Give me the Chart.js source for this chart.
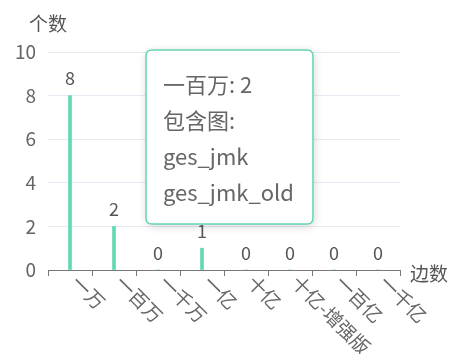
<!DOCTYPE html>
<html>
<head>
<meta charset="utf-8">
<script src="https://cdn.jsdelivr.net/npm/chart.js@4/dist/chart.umd.min.js"></script>
<style>
  html, body { margin: 0; padding: 0; background: #fff; }
  #wrap { width: 452px; height: 354px; position: relative; }
</style>
</head>
<body>
<div id="wrap"><canvas id="c" width="452" height="354"></canvas></div>
<script>
const categories = ['一万', '一百万', '一千万', '一亿', '十亿', '十亿-增强版', '一百亿', '一千亿'];
const counts = [8, 2, 0, 1, 0, 0, 0, 0];
const yTicks = [0, 2, 4, 6, 8, 10];
const tooltipIndex = 1;
const tooltipGraphs = ['ges_jmk', 'ges_jmk_old'];
const yAxisName = '个数';
const xAxisName = '边数';

const FONT = "'Noto Sans CJK SC', 'Noto Sans', sans-serif";
const BAR = '#62d9b5';

Chart.Tooltip.positioners.fixedPos = function (items) {
  if (!items.length) return false;
  const el = items[0].element;
  return { x: el.x + 38, y: 50 };
};

const extras = {
  id: 'extras',
  afterDatasetsDraw(chart) {
    const ctx = chart.ctx;
    const meta = chart.getDatasetMeta(0);
    const xs = chart.scales.x;
    ctx.save();
    // value labels
    ctx.font = '18px ' + FONT;
    ctx.fillStyle = '#555';
    ctx.textAlign = 'center';
    ctx.textBaseline = 'bottom';
    meta.data.forEach((bar, i) => {
      ctx.fillText(String(counts[i]), bar.x, bar.y - 8);
    });
    // rotated x labels
    ctx.font = '19px ' + FONT;
    ctx.fillStyle = '#666';
    ctx.textAlign = 'left';
    ctx.textBaseline = 'middle';
    categories.forEach((c, i) => {
      const x = xs.getPixelForValue(i);
      ctx.save();
      ctx.translate(x + 5, xs.top + 9);
      ctx.rotate(Math.PI / 4);
      ctx.fillText(c, 0, 0);
      ctx.restore();
    });
    // axis names
    ctx.font = '19px ' + FONT;
    ctx.fillStyle = '#555';
    ctx.textAlign = 'center';
    ctx.textBaseline = 'middle';
    ctx.fillText(yAxisName, chart.chartArea.left, 24);
    ctx.textAlign = 'left';
    ctx.fillText(xAxisName, chart.chartArea.right + 10, xs.top + 4);
    ctx.restore();
  },
  beforeTooltipDraw(chart, args) {
    const tt = args.tooltip;
    if (!tt || !tt.opacity) return;
    const ctx = chart.ctx;
    ctx.save();
    ctx.shadowColor = 'rgba(0,0,0,0.18)';
    ctx.shadowBlur = 10;
    ctx.shadowOffsetX = 1;
    ctx.shadowOffsetY = 2;
    ctx.fillStyle = '#fff';
    ctx.beginPath();
    ctx.roundRect(tt.x, tt.y, tt.width, tt.height, 6);
    ctx.fill();
    ctx.restore();
  }
};

const chart = new Chart(document.getElementById('c'), {
  type: 'bar',
  data: {
    labels: categories,
    datasets: [{
      data: counts,
      backgroundColor: BAR,
      hoverBackgroundColor: BAR,
      borderWidth: 0,
      barThickness: 3
    }]
  },
  plugins: [extras],
  options: {
    responsive: false,
    animation: false,
    events: [],
    layout: { padding: { top: 52, right: 52, left: 0, bottom: 0 } },
    plugins: {
      legend: { display: false },
      tooltip: {
        enabled: true,
        position: 'fixedPos',
        xAlign: 'left',
        yAlign: 'top',
        backgroundColor: 'rgba(255,255,255,1)',
        borderColor: '#66d5b4',
        borderWidth: 1.5,
        cornerRadius: 6,
        caretSize: 0,
        caretPadding: 0,
        padding: { left: 17, right: 19, top: 18, bottom: 14 },
        displayColors: false,
        bodyColor: '#666',
        bodyFont: { size: 22, lineHeight: 34 / 22, family: FONT },
        callbacks: {
          title: () => '',
          label: (ctx) => [ctx.label + ': ' + ctx.raw, '包含图:', ...tooltipGraphs]
        }
      }
    },
    scales: {
      x: {
        type: 'category',
        offset: true,
        grid: { display: true, drawOnChartArea: false, drawTicks: true, tickLength: 6, color: '#777', offset: true },
        border: { display: true, color: '#777', width: 1 },
        ticks: { display: false },
        afterFit: (s) => { s.height = 84; }
      },
      y: {
        min: 0,
        max: 10,
        afterBuildTicks: (s) => { s.ticks = yTicks.map(v => ({ value: v })); },
        grid: { color: '#e8eaf3', drawTicks: false },
        border: { display: false },
        ticks: { color: '#666', padding: 12, font: { size: 19, family: FONT } },
        afterFit: (s) => { s.width = 48; }
      }
    }
  }
});

chart.tooltip.setActiveElements([{ datasetIndex: 0, index: tooltipIndex }], { x: 0, y: 0 });
chart.update();
</script>
</body>
</html>
